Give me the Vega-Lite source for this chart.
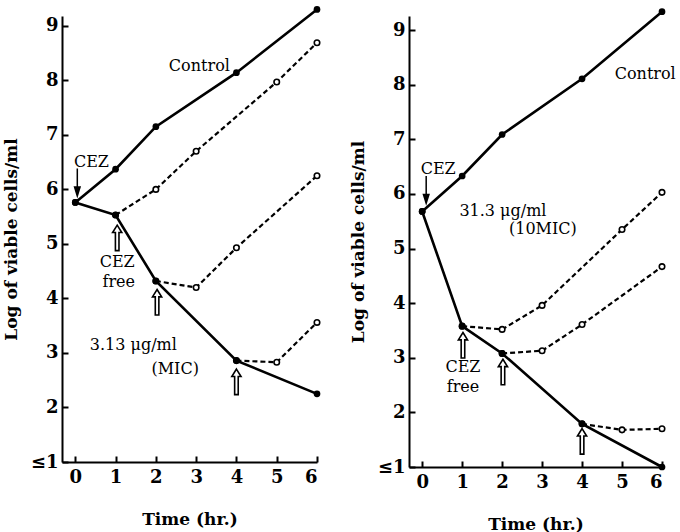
{
  "$schema": "https://vega.github.io/schema/vega-lite/v6.json",
  "padding": {"left": 2, "top": 4, "right": 5, "bottom": 5},
  "background": "white",
  "config": {
    "view": {"stroke": null},
    "font": "DejaVu Serif",
    "axis": {
      "domainColor": "black", "domainWidth": 2, "tickColor": "black", "tickWidth": 2,
      "tickSize": -6, "grid": false,
      "labelFont": "DejaVu Serif", "labelFontWeight": "bold", "labelFontSize": 18, "labelColor": "black",
      "titleFont": "DejaVu Serif", "titleFontWeight": "bold", "titleFontSize": 17, "titleColor": "black"
    }
  },
  "datasets": {
    "curves": [
      {"panel": "A", "series": "Control", "kind": "main", "t": 0, "v": 5.76},
      {"panel": "A", "series": "Control", "kind": "main", "t": 1, "v": 6.37},
      {"panel": "A", "series": "Control", "kind": "main", "t": 2, "v": 7.15},
      {"panel": "A", "series": "Control", "kind": "main", "t": 4, "v": 8.14},
      {"panel": "A", "series": "Control", "kind": "main", "t": 6, "v": 9.3},
      {"panel": "A", "series": "CEZ", "kind": "main", "t": 0, "v": 5.76},
      {"panel": "A", "series": "CEZ", "kind": "main", "t": 1, "v": 5.53},
      {"panel": "A", "series": "CEZ", "kind": "main", "t": 2, "v": 4.32},
      {"panel": "A", "series": "CEZ", "kind": "main", "t": 4, "v": 2.86},
      {"panel": "A", "series": "CEZ", "kind": "main", "t": 6, "v": 2.25},
      {"panel": "A", "series": "Free1", "kind": "regrowth", "t": 1, "v": 5.53},
      {"panel": "A", "series": "Free1", "kind": "regrowth", "t": 2, "v": 6.0},
      {"panel": "A", "series": "Free1", "kind": "regrowth", "t": 3, "v": 6.7},
      {"panel": "A", "series": "Free1", "kind": "regrowth", "t": 5, "v": 7.97},
      {"panel": "A", "series": "Free1", "kind": "regrowth", "t": 6, "v": 8.69},
      {"panel": "A", "series": "Free2", "kind": "regrowth", "t": 2, "v": 4.32},
      {"panel": "A", "series": "Free2", "kind": "regrowth", "t": 3, "v": 4.2},
      {"panel": "A", "series": "Free2", "kind": "regrowth", "t": 4, "v": 4.93},
      {"panel": "A", "series": "Free2", "kind": "regrowth", "t": 6, "v": 6.25},
      {"panel": "A", "series": "Free4", "kind": "regrowth", "t": 4, "v": 2.86},
      {"panel": "A", "series": "Free4", "kind": "regrowth", "t": 5, "v": 2.83},
      {"panel": "A", "series": "Free4", "kind": "regrowth", "t": 6, "v": 3.56},
      {"panel": "B", "series": "Control", "kind": "main", "t": 0, "v": 5.68},
      {"panel": "B", "series": "Control", "kind": "main", "t": 1, "v": 6.33},
      {"panel": "B", "series": "Control", "kind": "main", "t": 2, "v": 7.09},
      {"panel": "B", "series": "Control", "kind": "main", "t": 4, "v": 8.11},
      {"panel": "B", "series": "Control", "kind": "main", "t": 6, "v": 9.34},
      {"panel": "B", "series": "CEZ", "kind": "main", "t": 0, "v": 5.68},
      {"panel": "B", "series": "CEZ", "kind": "main", "t": 1, "v": 3.58},
      {"panel": "B", "series": "CEZ", "kind": "main", "t": 2, "v": 3.08},
      {"panel": "B", "series": "CEZ", "kind": "main", "t": 4, "v": 1.79},
      {"panel": "B", "series": "CEZ", "kind": "main", "t": 6, "v": 1.0},
      {"panel": "B", "series": "Free1", "kind": "regrowth", "t": 1, "v": 3.58},
      {"panel": "B", "series": "Free1", "kind": "regrowth", "t": 2, "v": 3.52},
      {"panel": "B", "series": "Free1", "kind": "regrowth", "t": 3, "v": 3.96},
      {"panel": "B", "series": "Free1", "kind": "regrowth", "t": 5, "v": 5.35},
      {"panel": "B", "series": "Free1", "kind": "regrowth", "t": 6, "v": 6.03},
      {"panel": "B", "series": "Free2", "kind": "regrowth", "t": 2, "v": 3.08},
      {"panel": "B", "series": "Free2", "kind": "regrowth", "t": 3, "v": 3.13},
      {"panel": "B", "series": "Free2", "kind": "regrowth", "t": 4, "v": 3.61},
      {"panel": "B", "series": "Free2", "kind": "regrowth", "t": 6, "v": 4.67},
      {"panel": "B", "series": "Free4", "kind": "regrowth", "t": 4, "v": 1.79},
      {"panel": "B", "series": "Free4", "kind": "regrowth", "t": 5, "v": 1.68},
      {"panel": "B", "series": "Free4", "kind": "regrowth", "t": 6, "v": 1.70}
    ],
    "notes": [
      {"panel": "A", "t": 3.08, "v": 8.27, "label": "Control"},
      {"panel": "A", "t": 0.4, "v": 6.51, "label": "CEZ"},
      {"panel": "A", "t": 1.04, "v": 4.66, "label": "CEZ"},
      {"panel": "A", "t": 1.08, "v": 4.3, "label": "free"},
      {"panel": "A", "t": 1.44, "v": 3.14, "label": "3.13  μg/ml"},
      {"panel": "A", "t": 2.48, "v": 2.7, "label": "(MIC)"},
      {"panel": "B", "t": 5.58, "v": 8.2, "label": "Control"},
      {"panel": "B", "t": 0.4, "v": 6.45, "label": "CEZ"},
      {"panel": "B", "t": 2.02, "v": 5.68, "label": "31.3  μg/ml"},
      {"panel": "B", "t": 3.02, "v": 5.35, "label": "(10MIC)"},
      {"panel": "B", "t": 1.02, "v": 2.83, "label": "CEZ"},
      {"panel": "B", "t": 1.02, "v": 2.46, "label": "free"}
    ],
    "arrows": [
      {"panel": "A", "dir": "down", "t": 0.05, "v": 6.13},
      {"panel": "A", "dir": "up", "t": 1.04, "v": 5.11},
      {"panel": "A", "dir": "up", "t": 2.03, "v": 3.93},
      {"panel": "A", "dir": "up", "t": 4.0, "v": 2.47},
      {"panel": "B", "dir": "down", "t": 0.1, "v": 6.08},
      {"panel": "B", "dir": "up", "t": 1.02, "v": 3.23},
      {"panel": "B", "dir": "up", "t": 2.02, "v": 2.74},
      {"panel": "B", "dir": "up", "t": 4.0, "v": 1.47}
    ]
  },
  "spacing": 26,
  "hconcat": [
    {
      "width": 255, "height": 446,
      "encoding": {
        "x": {"field": "t", "type": "quantitative", "scale": {"domain": [-0.33, 6], "nice": false, "zero": false},
              "axis": {"values": [0, 1, 2, 3, 4, 5, 6], "title": "Time (hr.)", "labelPadding": 12, "titlePadding": 25}},
        "y": {"field": "v", "type": "quantitative", "scale": {"domain": [1, 9.18], "nice": false, "zero": false},
              "axis": {"values": [1, 2, 3, 4, 5, 6, 7, 8, 9], "title": "Log of viable cells/ml", "labelPadding": 10, "titlePadding": 10,
                       "labelExpr": "datum.value == 1 ? '≤1' : datum.label"}}
      },
      "layer": [
        {"data": {"name": "curves"}, "transform": [{"filter": "datum.panel == 'A' && datum.kind == 'regrowth'"}],
         "mark": {"type": "line", "color": "black", "strokeWidth": 2.2, "strokeDash": [5, 3]},
         "encoding": {"detail": {"field": "series"}}},
        {"data": {"name": "curves"}, "transform": [{"filter": "datum.panel == 'A' && datum.kind == 'main'"}],
         "mark": {"type": "line", "color": "black", "strokeWidth": 2.6},
         "encoding": {"detail": {"field": "series"}}},
        {"data": {"name": "curves"}, "transform": [{"filter": "datum.panel == 'A' && datum.kind == 'regrowth'"}],
         "mark": {"type": "point", "shape": "circle", "filled": true, "fill": "white", "stroke": "black", "strokeWidth": 1.6, "size": 30, "opacity": 1}},
        {"data": {"name": "curves"}, "transform": [{"filter": "datum.panel == 'A' && datum.kind == 'main'"}],
         "mark": {"type": "point", "shape": "circle", "filled": true, "color": "black", "size": 45, "opacity": 1}},
        {"data": {"name": "arrows"}, "transform": [{"filter": "datum.panel == 'A' && datum.dir == 'up'"}],
         "mark": {"type": "point", "shape": "M0,-1L0.36,-0.42L0.14,-0.42L0.14,1L-0.14,1L-0.14,-0.42L-0.36,-0.42Z", "filled": false, "stroke": "black", "strokeWidth": 1.6, "size": 650, "opacity": 1}},
        {"data": {"name": "arrows"}, "transform": [{"filter": "datum.panel == 'A' && datum.dir == 'down'"}],
         "mark": {"type": "point", "shape": "M0,1L-0.2,0.35L0.2,0.35ZM0,-1L0,0.4", "filled": true, "fill": "black", "stroke": "black", "strokeWidth": 1.5, "size": 750, "opacity": 1}},
        {"data": {"name": "notes"}, "transform": [{"filter": "datum.panel == 'A'"}],
         "mark": {"type": "text", "font": "DejaVu Serif", "fontSize": 16, "color": "black"},
         "encoding": {"text": {"field": "label"}}}
      ]
    },
    {
      "width": 253, "height": 451,
      "encoding": {
        "x": {"field": "t", "type": "quantitative", "scale": {"domain": [-0.33, 6], "nice": false, "zero": false},
              "axis": {"values": [0, 1, 2, 3, 4, 5, 6], "title": "Time (hr.)", "labelPadding": 12, "titlePadding": 25}},
        "y": {"field": "v", "type": "quantitative", "scale": {"domain": [1, 9.26], "nice": false, "zero": false},
              "axis": {"values": [1, 2, 3, 4, 5, 6, 7, 8, 9], "title": "Log of viable cells/ml", "labelPadding": 10, "titlePadding": 10,
                       "labelExpr": "datum.value == 1 ? '≤1' : datum.label"}}
      },
      "layer": [
        {"data": {"name": "curves"}, "transform": [{"filter": "datum.panel == 'B' && datum.kind == 'regrowth'"}],
         "mark": {"type": "line", "color": "black", "strokeWidth": 2.2, "strokeDash": [5, 3]},
         "encoding": {"detail": {"field": "series"}}},
        {"data": {"name": "curves"}, "transform": [{"filter": "datum.panel == 'B' && datum.kind == 'main'"}],
         "mark": {"type": "line", "color": "black", "strokeWidth": 2.6},
         "encoding": {"detail": {"field": "series"}}},
        {"data": {"name": "curves"}, "transform": [{"filter": "datum.panel == 'B' && datum.kind == 'regrowth'"}],
         "mark": {"type": "point", "shape": "circle", "filled": true, "fill": "white", "stroke": "black", "strokeWidth": 1.6, "size": 30, "opacity": 1}},
        {"data": {"name": "curves"}, "transform": [{"filter": "datum.panel == 'B' && datum.kind == 'main'"}],
         "mark": {"type": "point", "shape": "circle", "filled": true, "color": "black", "size": 45, "opacity": 1}},
        {"data": {"name": "arrows"}, "transform": [{"filter": "datum.panel == 'B' && datum.dir == 'up'"}],
         "mark": {"type": "point", "shape": "M0,-1L0.36,-0.42L0.14,-0.42L0.14,1L-0.14,1L-0.14,-0.42L-0.36,-0.42Z", "filled": false, "stroke": "black", "strokeWidth": 1.6, "size": 650, "opacity": 1}},
        {"data": {"name": "arrows"}, "transform": [{"filter": "datum.panel == 'B' && datum.dir == 'down'"}],
         "mark": {"type": "point", "shape": "M0,1L-0.2,0.35L0.2,0.35ZM0,-1L0,0.4", "filled": true, "fill": "black", "stroke": "black", "strokeWidth": 1.5, "size": 750, "opacity": 1}},
        {"data": {"name": "notes"}, "transform": [{"filter": "datum.panel == 'B'"}],
         "mark": {"type": "text", "font": "DejaVu Serif", "fontSize": 16, "color": "black"},
         "encoding": {"text": {"field": "label"}}}
      ]
    }
  ]
}
